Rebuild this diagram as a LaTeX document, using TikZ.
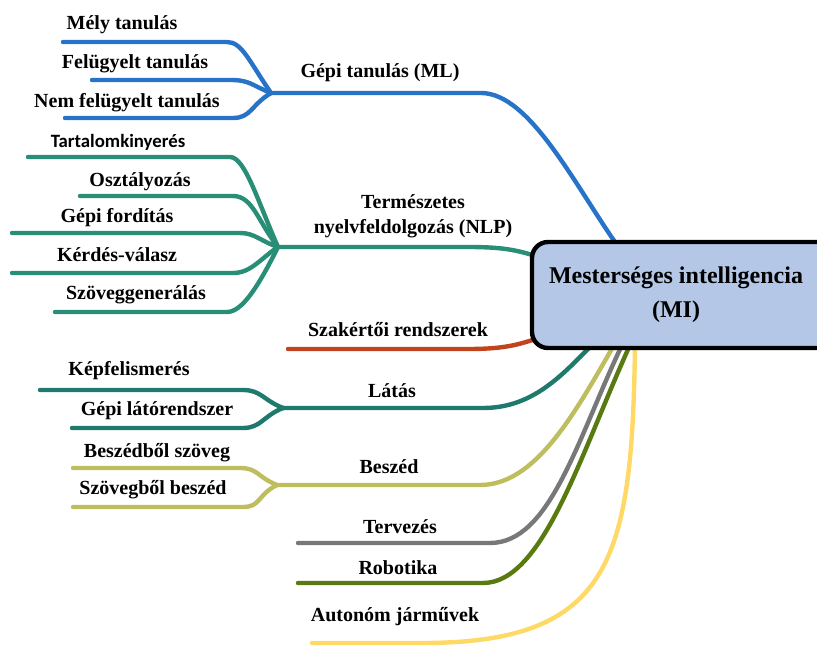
\documentclass[tikz,border=0pt]{standalone}
\usepackage{fontspec}
\setmainfont{Liberation Serif}
\newfontfamily\sansfnt{Carlito}
\usepackage{tikz}
\usepackage{xcolor}
\usetikzlibrary{positioning,calc}
\definecolor{mlblue}{RGB}{38,115,200}
\definecolor{nlpteal}{RGB}{40,142,118}
\definecolor{expred}{RGB}{193,68,30}
\definecolor{visteal}{RGB}{30,122,108}
\definecolor{spolive}{RGB}{190,190,95}
\definecolor{plgray}{RGB}{120,120,120}
\definecolor{robgreen}{RGB}{88,122,16}
\definecolor{autyellow}{RGB}{255,217,102}
\definecolor{aifill}{RGB}{180,199,231}
\newcommand{\bnode}[3]{\node [] (#1) at (#2) {#3}}
\tikzset{br/.style={line width=2.2pt, line cap=round}}

\begin{document}
\begin{tikzpicture}[x=0.5pt, y=-0.5pt, every node/.style={font=\bfseries}]
\useasboundingbox (0,0) rectangle (817,646);

% forks and free ends
\coordinate (mlF) at (271,93);
\coordinate (nlpF) at (278,247);
\coordinate (latF) at (283,408);
\coordinate (besF) at (277,485);
\coordinate (sakL) at (288,349);
\coordinate (terL) at (298,543);
\coordinate (robL) at (298,583);
\coordinate (autL) at (312,643);
\coordinate (mlyL) at (63,42);
\coordinate (felL) at (92,80);
\coordinate (nemL) at (65,118);
\coordinate (tarL) at (28,157);
\coordinate (oszL) at (80,196);
\coordinate (gfoL) at (12,233);
\coordinate (kerL) at (12,273);
\coordinate (szgL) at (55,312);
\coordinate (kepL) at (40,390);
\coordinate (glaL) at (72,428);
\coordinate (bszL) at (73,468);
\coordinate (szbL) at (73,507);
% ends under the box
\coordinate (mlT) at (622,252);
\coordinate (nlpT) at (545,259);
\coordinate (sakT) at (545,336);
\coordinate (latT) at (592,345);
\coordinate (besT) at (614,345);
\coordinate (terT) at (622,345);
\coordinate (robT) at (630,345);
\coordinate (autT) at (635,345);

\draw[br, mlblue] (mlF) -- ++(210,0) .. controls +(50,0) and +(-45,-62) .. (mlT);
\draw[br, mlblue] (mlyL) -- ++(164,0) .. controls +(15,0) and +(-22,-32) .. (mlF);
\draw[br, mlblue] (felL) -- ++(138,0) .. controls +(20,0) and +(-20,-8) .. (mlF);
\draw[br, mlblue] (nemL) -- ++(168,0) .. controls +(18,0) and +(-20,12) .. (mlF);

\draw[br, nlpteal] (nlpF) -- ++(190,0) .. controls +(40,0) and +(-25,-8) .. (nlpT);
\draw[br, nlpteal] (tarL) -- ++(202,0) .. controls +(15,0) and +(-20,-45) .. (nlpF);
\draw[br, nlpteal] (oszL) -- ++(153,0) .. controls +(20,0) and +(-20,-25) .. (nlpF);
\draw[br, nlpteal] (gfoL) -- ++(228,0) .. controls +(15,0) and +(-18,-6) .. (nlpF);
\draw[br, nlpteal] (kerL) -- ++(221,0) .. controls +(18,0) and +(-18,12) .. (nlpF);
\draw[br, nlpteal] (szgL) -- ++(172,0) .. controls +(15,0) and +(-20,40) .. (nlpF);

\draw[br, expred] (sakL) -- ++(180,0) .. controls +(40,0) and +(-25,8) .. (sakT);

\draw[br, visteal] (latF) -- ++(200,0) .. controls +(50,0) and +(-30,30) .. (latT);
\draw[br, visteal] (kepL) -- ++(203,0) .. controls +(18,0) and +(-20,-8) .. (latF);
\draw[br, visteal] (glaL) -- ++(171,0) .. controls +(18,0) and +(-20,8) .. (latF);

\draw[br, spolive] (besF) -- ++(203,0) .. controls +(55,0) and +(-40,70) .. (besT);
\draw[br, spolive] (bszL) -- ++(167,0) .. controls +(18,0) and +(-20,-8) .. (besF);
\draw[br, spolive] (szbL) -- ++(170,0) .. controls +(18,0) and +(-20,10) .. (besF);

\draw[br, plgray] (terL) -- ++(192,0) .. controls +(60,0) and +(-45,95) .. (terT);
\draw[br, robgreen] (robL) -- ++(185,0) .. controls +(60,0) and +(-50,110) .. (robT);
\draw[br, autyellow] (autL) -- ++(110,0) .. controls +(190,0) and +(-3,215) .. (autT);

% the box runs past the right edge
\draw[line width=2.2pt, rounded corners=8pt, fill=aifill] (532,242) rectangle (850,348);
\node [align=center, font=\fontsize{12}{17}\selectfont\bfseries]
  (ai) at (676,295) {Mesterséges intelligencia\\(MI)};

\bnode{ml}{380,73}{Gépi tanulás (ML)};
\bnode{mly}{122,25}{Mély tanulás};
\bnode{fel}{135,64}{Felügyelt tanulás};
\bnode{nem}{127,103}{Nem felügyelt tanulás};
\node [align=center, font=\fontsize{10}{12.5}\selectfont\bfseries] (nlp) at (413,216) {Természetes\\nyelvfeldolgozás (NLP)};
\bnode{tar}{118,142}{\sansfnt\fontsize{9.4}{11}\selectfont Tartalomkinyerés};
\bnode{osz}{140,182}{Osztályozás};
\bnode{gfo}{117,218}{Gépi fordítás};
\bnode{ker}{117,255}{Kérdés-válasz};
\bnode{szg}{136,295}{Szöveggenerálás};
\bnode{sak}{398,330}{Szakértői rendszerek};
\bnode{lat}{392,391}{Látás};
\bnode{kep}{129,371}{Képfelismerés};
\bnode{gla}{157,411}{Gépi látórendszer};
\bnode{bes}{389,467}{Beszéd};
\bnode{bsz}{157,453}{Beszédből szöveg};
\bnode{szb}{153,490}{Szövegből beszéd};
\bnode{ter}{400,527}{Tervezés};
\bnode{rob}{398,568}{Robotika};
\bnode{aut}{395,617}{Autonóm járművek};

\end{tikzpicture}
\end{document}
